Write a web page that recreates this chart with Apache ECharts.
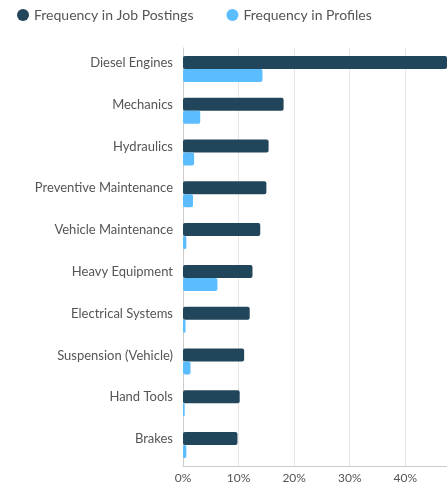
<!DOCTYPE html>
<html><head><meta charset="utf-8">
<script src="https://cdn.jsdelivr.net/npm/echarts@6/dist/echarts.min.js"></script>
<style>html,body{margin:0;padding:0;background:#fff}#c{width:447px;height:484px}</style>
</head><body><div id="c"></div>
<script>
const categories = ["Diesel Engines","Mechanics","Hydraulics","Preventive Maintenance","Vehicle Maintenance","Heavy Equipment","Electrical Systems","Suspension (Vehicle)","Hand Tools","Brakes"];
const jobPostings = [48.5,18.1,15.4,15.0,13.9,12.5,12.0,11.0,10.2,9.8];
const profiles = [14.3,3.1,2.0,1.8,0.6,6.2,0.45,1.35,0.3,0.6];
const seriesNames = ["Frequency in Job Postings","Frequency in Profiles"];
const colors = ["#21455a","#5bbdfe"];
const chart = echarts.init(document.getElementById('c'));
chart.setOption({
  animation:false,
  textStyle:{fontFamily:'Lato'},
  legend:{left:12,top:3,itemWidth:12,itemHeight:12,itemGap:33,icon:'circle',
    textStyle:{fontFamily:'Lato',fontSize:14,color:'#555'},
    data:seriesNames},
  grid:{left:183,right:0,top:48,bottom:18,containLabel:false},
  xAxis:{type:'value',min:0,max:47.5,interval:10,
    axisLabel:{formatter:'{value}%',color:'#555',fontFamily:'Lato',fontSize:12,margin:6,showMaxLabel:false},
    splitLine:{lineStyle:{color:'#e6e6e6'}},
    axisLine:{show:true,lineStyle:{color:'#ccc'}},axisTick:{show:false}},
  yAxis:{type:'category',inverse:true,data:categories,
    axisLine:{lineStyle:{color:'#ccc'}},axisTick:{show:false},
    axisLabel:{color:'#555',fontFamily:'Lato',fontSize:13,margin:10,verticalAlign:'bottom',lineHeight:12}},
  series:[
    {name:seriesNames[0],type:'bar',data:jobPostings,barWidth:13,barGap:'0%',
     itemStyle:{color:colors[0],borderRadius:2}},
    {name:seriesNames[1],type:'bar',data:profiles,barWidth:13,barGap:'0%',
     itemStyle:{color:colors[1],borderRadius:2}}
  ]
});
</script></body></html>
